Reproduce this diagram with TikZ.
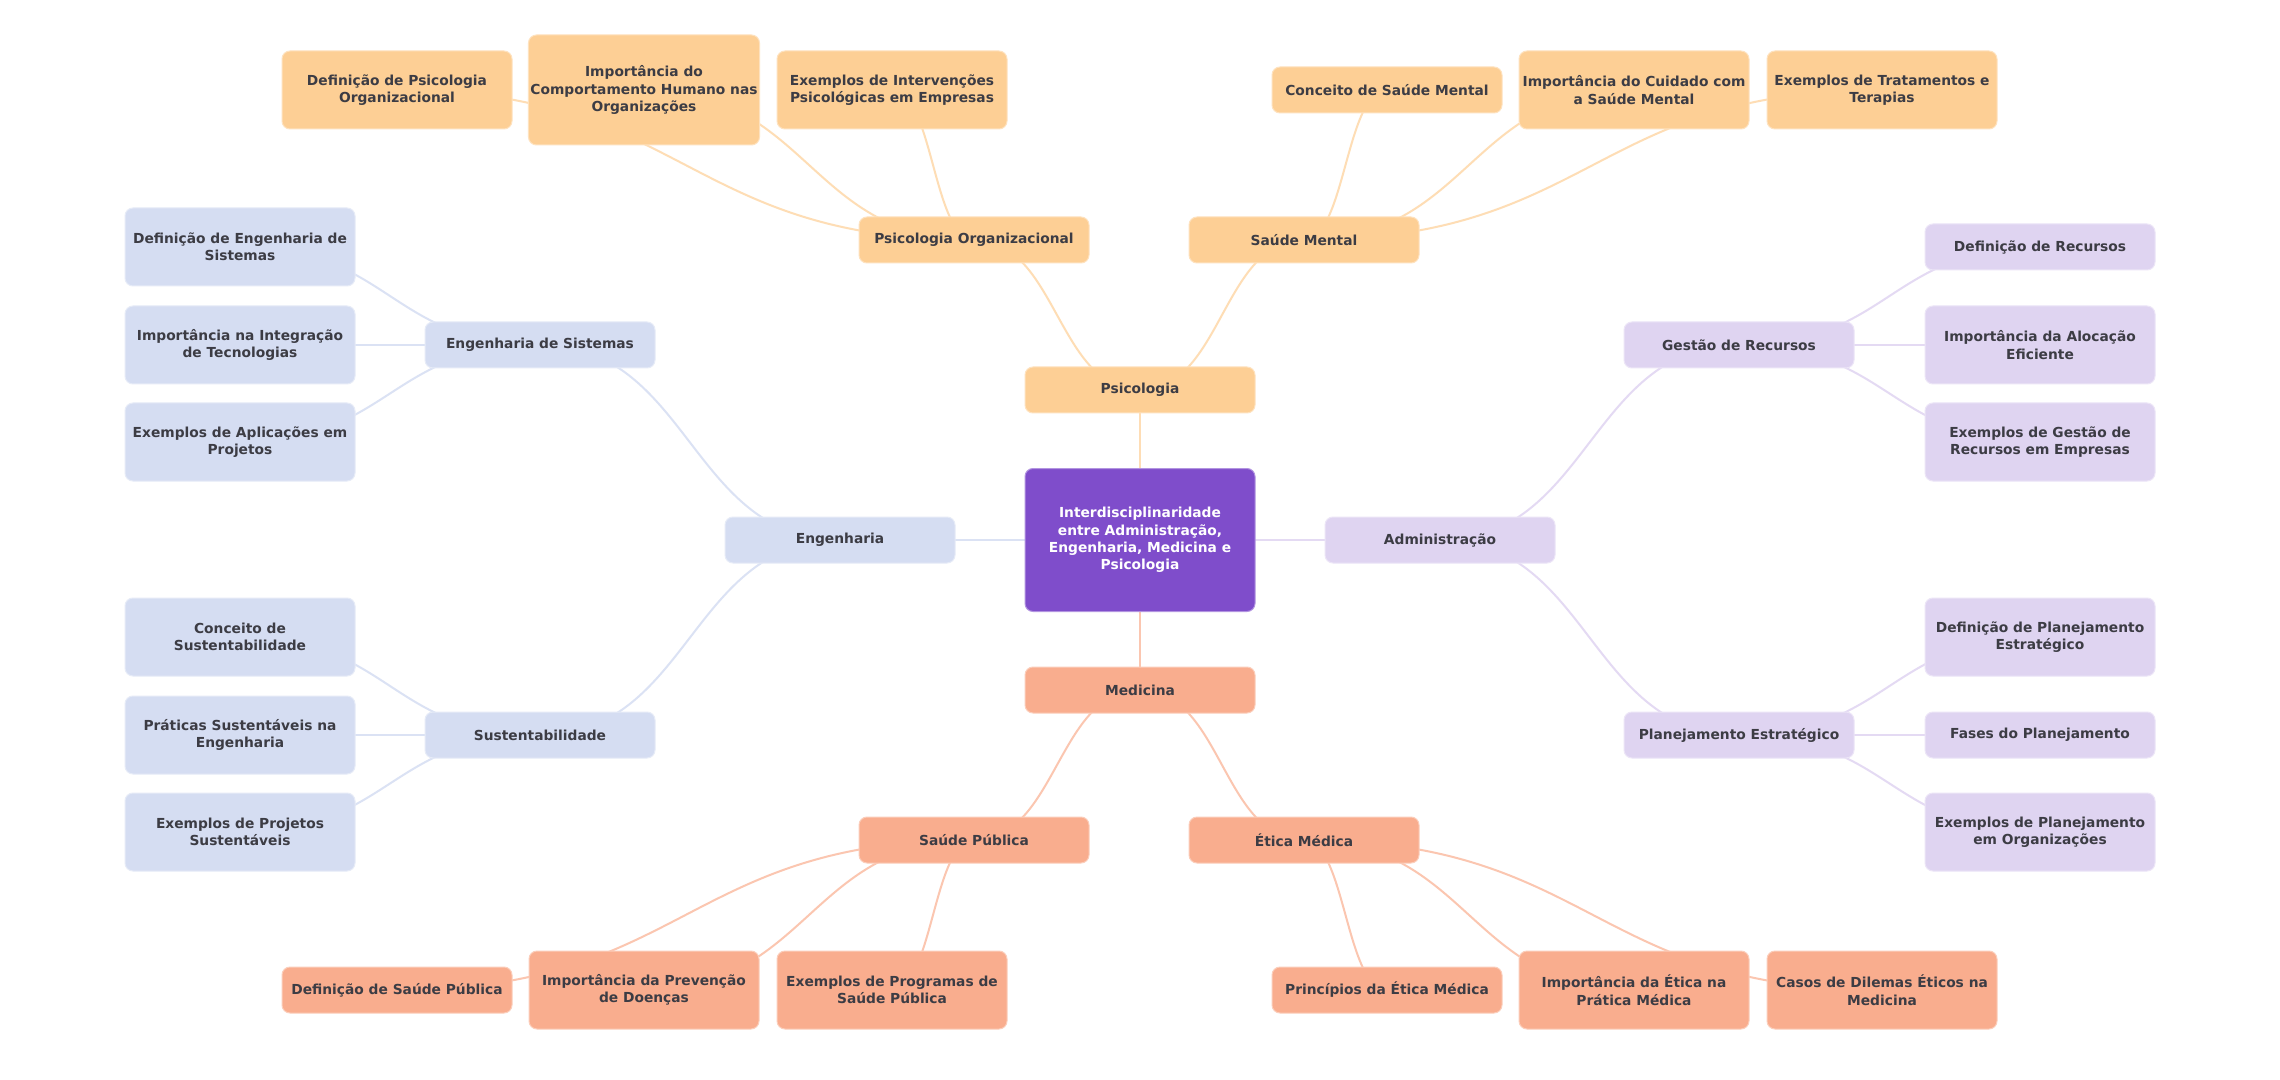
\documentclass[tikz,border=0pt]{standalone}
\usepackage{fontspec}
\setmainfont{DejaVu Sans}
\usetikzlibrary{calc,backgrounds}
\definecolor{PsyFill}{HTML}{FDCF95}
\definecolor{MedFill}{HTML}{F9AD8E}
\definecolor{EngFill}{HTML}{D5DDF2}
\definecolor{AdmFill}{HTML}{DFD4F1}
\definecolor{RootFill}{HTML}{7F4DCB}
\definecolor{TextGray}{HTML}{3C3C44}
\tikzset{
  box/.style={rectangle, rounded corners=4pt, minimum width=115pt, minimum height=23pt,
    align=center, inner sep=1pt, line width=0.5pt, text=TextGray,
    font=\fontsize{6.9}{8.7}\selectfont\bfseries},
  two/.style={minimum height=39pt},
  three/.style={minimum height=55pt},
  root/.style={box, fill=RootFill, draw=RootFill!60!white, text=white, minimum height=71.5pt},
  psy/.style={box, fill=PsyFill, draw=PsyFill!60!white},
  med/.style={box, fill=MedFill, draw=MedFill!60!white},
  eng/.style={box, fill=EngFill, draw=EngFill!60!white},
  adm/.style={box, fill=AdmFill, draw=AdmFill!60!white},
  curve/.style={to path={let \p1=(\tikztostart), \p2=(\tikztotarget) in
    .. controls ({(\x1+\x2)/2},\y1) and ({(\x1+\x2)/2},\y2) .. (\tikztotarget)}},
  psyline/.style={draw=PsyFill!70!white, line width=1pt},
  medline/.style={draw=MedFill!70!white, line width=1pt},
  engline/.style={draw=EngFill!85!white, line width=1pt},
  admline/.style={draw=AdmFill!85!white, line width=1pt},
}

\begin{document}
\begin{tikzpicture}[x=0.5pt, y=-0.5pt]
  \useasboundingbox (0,0) rectangle (2280,1080);

  % centre and main areas
  \node[root] (root) at (1140,540) {Interdisciplinaridade\\entre Administração,\\Engenharia, Medicina e\\Psicologia};
  \node[psy] (psy) at (1140,390) {Psicologia};
  \node[med] (med) at (1140,690) {Medicina};
  \node[eng] (eng) at (840,540)  {Engenharia};
  \node[adm] (adm) at (1440,540) {Administração};

  % second level
  \node[psy] (psyorg) at (974,240)  {Psicologia Organizacional};
  \node[psy] (mental) at (1304,240) {Saúde Mental};
  \node[med] (publica) at (974,840) {Saúde Pública};
  \node[med] (etica) at (1304,840)  {Ética Médica};
  \node[eng] (sist) at (540,345)    {Engenharia de Sistemas};
  \node[eng] (sust) at (540,735)    {Sustentabilidade};
  \node[adm] (gestao) at (1739,345) {Gestão de Recursos};
  \node[adm] (plan) at (1739,735)   {Planejamento Estratégico};

  % Psicologia leaves
  \node[psy,two]   (defpsy) at (397,90)  {Definição de Psicologia\\Organizacional};
  \node[psy,three] (imppsy) at (644,90)  {Importância do\\Comportamento Humano nas\\Organizações};
  \node[psy,two]   (exppsy) at (892,90)  {Exemplos de Intervenções\\Psicológicas em Empresas};
  \node[psy]       (conmen) at (1387,90) {Conceito de Saúde Mental};
  \node[psy,two]   (impmen) at (1634,90) {Importância do Cuidado com\\a Saúde Mental};
  \node[psy,two]   (expmen) at (1882,90) {Exemplos de Tratamentos e\\Terapias};

  % Medicina leaves
  \node[med]     (defpub) at (397,990)  {Definição de Saúde Pública};
  \node[med,two] (imppub) at (644,990)  {Importância da Prevenção\\de Doenças};
  \node[med,two] (exppub) at (892,990)  {Exemplos de Programas de\\Saúde Pública};
  \node[med]     (prieti) at (1387,990) {Princípios da Ética Médica};
  \node[med,two] (impeti) at (1634,990) {Importância da Ética na\\Prática Médica};
  \node[med,two] (caseti) at (1882,990) {Casos de Dilemas Éticos na\\Medicina};

  % Engenharia leaves
  \node[eng,two] (defsis) at (240,247) {Definição de Engenharia de\\Sistemas};
  \node[eng,two] (impsis) at (240,345) {Importância na Integração\\de Tecnologias};
  \node[eng,two] (expsis) at (240,442) {Exemplos de Aplicações em\\Projetos};
  \node[eng,two] (consus) at (240,637) {Conceito de\\Sustentabilidade};
  \node[eng,two] (prasus) at (240,735) {Práticas Sustentáveis na\\Engenharia};
  \node[eng,two] (expsus) at (240,832) {Exemplos de Projetos\\Sustentáveis};

  % Administração leaves
  \node[adm]     (defrec) at (2040,247) {Definição de Recursos};
  \node[adm,two] (imprec) at (2040,345) {Importância da Alocação\\Eficiente};
  \node[adm,two] (exprec) at (2040,442) {Exemplos de Gestão de\\Recursos em Empresas};
  \node[adm,two] (defpla) at (2040,637) {Definição de Planejamento\\Estratégico};
  \node[adm]     (faspla) at (2040,735) {Fases do Planejamento};
  \node[adm,two] (exppla) at (2040,832) {Exemplos de Planejamento\\em Organizações};

  \begin{scope}[on background layer]
    \fill[white] (0,0) rectangle (2280,1080);

    \draw[psyline] (root.center) to[curve] (psy.center);
    \draw[medline] (root.center) to[curve] (med.center);
    \draw[engline] (root.center) to[curve] (eng.center);
    \draw[admline] (root.center) to[curve] (adm.center);

    \draw[psyline] (psy.center) to[curve] (psyorg.center);
    \draw[psyline] (psy.center) to[curve] (mental.center);
    \draw[medline] (med.center) to[curve] (publica.center);
    \draw[medline] (med.center) to[curve] (etica.center);
    \draw[engline] (eng.center) to[curve] (sist.center);
    \draw[engline] (eng.center) to[curve] (sust.center);
    \draw[admline] (adm.center) to[curve] (gestao.center);
    \draw[admline] (adm.center) to[curve] (plan.center);

    \foreach \leaf in {defpsy,imppsy,exppsy}
      \draw[psyline] (psyorg.center) to[curve] (\leaf.center);
    \foreach \leaf in {conmen,impmen,expmen}
      \draw[psyline] (mental.center) to[curve] (\leaf.center);
    \foreach \leaf in {defpub,imppub,exppub}
      \draw[medline] (publica.center) to[curve] (\leaf.center);
    \foreach \leaf in {prieti,impeti,caseti}
      \draw[medline] (etica.center) to[curve] (\leaf.center);
    \foreach \leaf in {defsis,impsis,expsis}
      \draw[engline] (sist.center) to[curve] (\leaf.center);
    \foreach \leaf in {consus,prasus,expsus}
      \draw[engline] (sust.center) to[curve] (\leaf.center);
    \foreach \leaf in {defrec,imprec,exprec}
      \draw[admline] (gestao.center) to[curve] (\leaf.center);
    \foreach \leaf in {defpla,faspla,exppla}
      \draw[admline] (plan.center) to[curve] (\leaf.center);
  \end{scope}
\end{tikzpicture}
\end{document}
